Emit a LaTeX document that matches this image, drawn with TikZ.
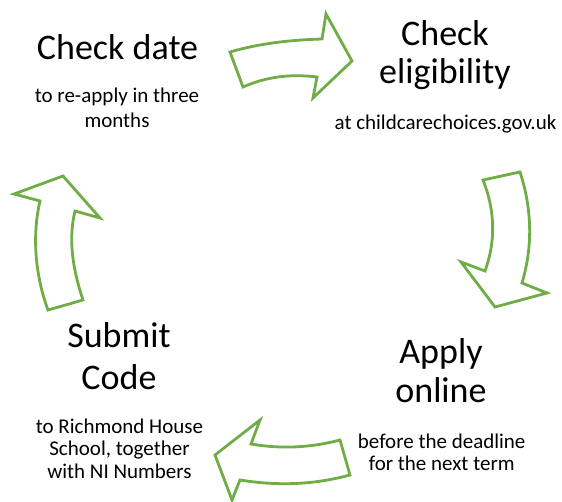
\documentclass[tikz,border=0pt]{standalone}
\usepackage{fontspec}
\setmainfont{Carlito}
\definecolor{arrowgreen}{rgb}{0.44, 0.68, 0.28}
\usetikzlibrary{positioning}

\begin{document}
\begin{tikzpicture}[x=1pt, y=-1pt]
		% STYLES
		\tikzstyle{blockarrow} = [line width=2.8pt, draw=arrowgreen, fill=white, line join=miter]
		\tikzstyle{steptitle} = [inner sep=0pt, anchor=base, align=center, font=\fontsize{36}{39}\selectfont]
		\tikzstyle{stepnote} = [inner sep=0pt, anchor=base, align=center, font=\fontsize{21}{23}\selectfont]

		% FOND
		\useasboundingbox (0, 0) rectangle (562, 502);

		% ARROW 1 : TOP
		\draw[blockarrow] (230, 52) -- (243, 87)
			.. controls (268, 76) and (292, 74) .. (317, 77)
			-- (313, 98) -- (352, 61) -- (326, 14) -- (322, 39)
			.. controls (291, 40) and (261, 43) .. cycle;

		% ARROW 2 : RIGHT
		\draw[blockarrow] (483, 180) -- (520, 172)
			.. controls (532, 209) and (533, 246) .. (522, 283)
			-- (547, 293) -- (495, 307) -- (461, 262) -- (485, 271)
			.. controls (496, 241) and (495, 210) .. cycle;

		% ARROW 3 : BOTTOM
		\draw[blockarrow] (350, 475) -- (340, 440)
			.. controls (310, 448) and (280, 449) .. (251, 444)
			-- (260, 420) -- (215, 455) -- (232, 500) -- (240, 480)
			.. controls (277, 486) and (313, 485) .. cycle;

		% ARROW 4 : LEFT
		\draw[blockarrow] (48, 310) -- (83, 300)
			.. controls (73, 270) and (68, 240) .. (75, 211)
			-- (100, 218) -- (63, 176) -- (14, 194) -- (40, 201)
			.. controls (32, 235) and (35, 275) .. cycle;

		% TITLES (base = last line)
		\node[steptitle] (checkdate) at (117.5, 59.3) {Check date};
		\node[steptitle, font=\fontsize{36}{38.3}\selectfont] (eligibility) at (445, 84) {Check\\eligibility};
		\node[steptitle, font=\fontsize{36}{39.4}\selectfont] (applyonline) at (441, 402.7) {Apply\\online};
		\node[steptitle, font=\fontsize{36}{41.6}\selectfont] (submitcode) at (119, 389.3) {Submit\\Code};

		% NOTES
		\node[stepnote, font=\fontsize{21}{25}\selectfont] (checkdatenote) at (117, 127.3) {to re-apply in three\\months};
		\node[stepnote] (eligibilitynote) at (445.5, 130) {at childcarechoices.gov.uk};
		\node[stepnote, font=\fontsize{21}{21.7}\selectfont] (applyonlinenote) at (441.7, 470) {before the deadline\\for the next term};
		\node[stepnote, font=\fontsize{21}{22.5}\selectfont] (submitcodenote) at (119.5, 478.3) {to Richmond House\\School, together\\with NI Numbers};

	\end{tikzpicture}
\end{document}
